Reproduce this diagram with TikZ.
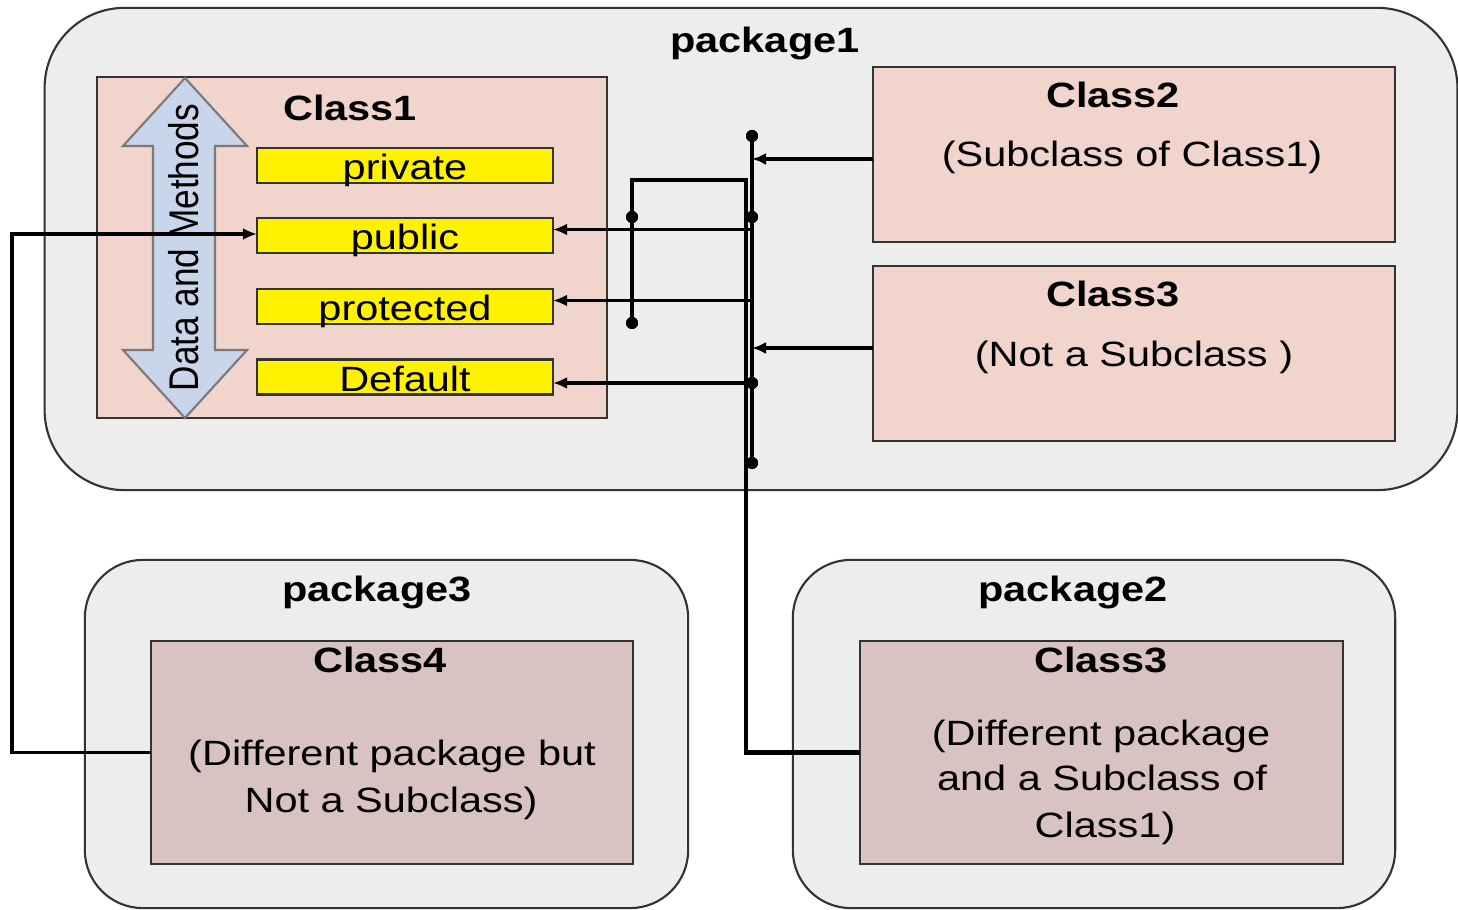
\documentclass[tikz,border=0pt]{standalone}
\usepackage{fontspec}
\usepackage{graphicx}
\setmainfont{Liberation Sans}
\usetikzlibrary{arrows.meta,calc}
\definecolor{pkgfill}{HTML}{EDEDED}
\definecolor{clsfill}{HTML}{F1D4CC}
\definecolor{clsdark}{HTML}{D9C3C2}
\definecolor{arrfill}{HTML}{C8D5EA}
\definecolor{arrdraw}{HTML}{7A7A7A}
\definecolor{boxdraw}{HTML}{333333}
\newcommand{\wide}[1]{\scalebox{1.18}[1]{#1}}
\begin{document}
\begin{tikzpicture}[x=0.01cm,y=-0.01cm,
  every node/.style={font=\fontsize{10}{12}\selectfont, inner sep=0pt, outer sep=0pt},
  pkg/.style={draw=boxdraw, fill=pkgfill, line width=0.6pt},
  cls/.style={draw=boxdraw, fill=clsfill, line width=0.6pt},
  clsd/.style={draw=boxdraw, fill=clsdark, line width=0.6pt},
  mod/.style={draw=boxdraw, fill=yellow, line width=0.6pt, minimum width=2.96cm, minimum height=0.35cm, text height=8pt, text depth=0pt},
  txt/.style={anchor=base},
  ttl/.style={anchor=base, font=\fontsize{10}{12}\selectfont\bfseries},
  bus/.style={line width=1.3pt},
  arr/.style={line width=1.0pt, -{Latex[length=1.4mm,width=1.2mm]}},
  dot/.style={circle, fill=black, minimum size=0.12cm}
]
\useasboundingbox (0,0) rectangle (1458,910);

% packages
\node[pkg, minimum width=14.12cm, minimum height=4.82cm, rounded corners=0.8cm] (p1) at (751,249) {};
\node[pkg, minimum width=6.03cm, minimum height=3.48cm, rounded corners=0.58cm] (p3) at (386.5,734) {};
\node[pkg, minimum width=6.02cm, minimum height=3.48cm, rounded corners=0.58cm] (p2) at (1094,734) {};

% classes
\node[cls, minimum width=5.10cm, minimum height=3.41cm] (c1) at (352,247.5) {};
\node[cls, minimum width=5.22cm, minimum height=1.75cm] (c2) at (1134,154.5) {};
\node[cls, minimum width=5.22cm, minimum height=1.75cm] (c3a) at (1134,353.5) {};
\node[clsd, minimum width=4.82cm, minimum height=2.23cm] (c4) at (392,752.5) {};
\node[clsd, minimum width=4.83cm, minimum height=2.23cm] (c3b) at (1101.5,752.5) {};

% double arrow "Data and Methods"
\draw[fill=arrfill, draw=arrdraw, line width=0.6pt]
  (185,78) -- (247,146) -- (215,146) -- (215,350) -- (247,350) -- (185,418)
  -- (123,350) -- (153,350) -- (153,146) -- (123,146) -- cycle;
\node[rotate=90] (dm) at (184,247.5) {\scalebox{1}[1.18]{Data and Methods}};

% access modifiers
\node[mod] (priv) at (405,165.5) {\wide{private}};
\node[mod] (pub) at (405,235.5) {\wide{public}};
\node[mod] (prot) at (405,306.5) {\wide{protected}};
\node[mod] (def) at (405,377) {\wide{Default}};

% labels
\node[ttl] (tp1) at (765,53) {\wide{package1}};
\node[ttl] (tc1) at (350,121) {\wide{Class1}};
\node[ttl] (tc2) at (1113,108) {\wide{Class2}};
\node[txt] (tc2s) at (1132,167) {\wide{(Subclass of Class1)}};
\node[ttl] (tc3) at (1113,307) {\wide{Class3}};
\node[txt] (tc3s) at (1134,367) {\wide{(Not a Subclass )}};
\node[ttl] (tp3) at (377,602) {\wide{package3}};
\node[ttl] (tc4) at (380,672) {\wide{Class4}};
\node[txt] (tc4a) at (392,765) {\wide{(Different package but}};
\node[txt] (tc4b) at (391,812) {\wide{Not a Subclass)}};
\node[ttl] (tp2) at (1073,602) {\wide{package2}};
\node[ttl] (tc3b) at (1101,672) {\wide{Class3}};
\node[txt] (tc3ba) at (1101,745) {\wide{(Different package}};
\node[txt] (tc3bb) at (1102,790) {\wide{and a Subclass of}};
\node[txt] (tc3bc) at (1105,837) {\wide{Class1)}};

% junction dots
\node[dot] (dTop) at (752,136) {};
\node[dot] (d2) at (752,217) {};
\node[dot] (d3) at (752,383) {};
\node[dot] (dBot) at (752,463) {};
\node[dot] (e1) at (632,217) {};
\node[dot] (e2) at (632,323) {};
\coordinate (jtop) at (746,180);
\coordinate (ktop) at (632,180);
\coordinate (lx) at (12,0);

% bus
\draw[bus] (dTop.center) -- (dBot.center);
% package2 Class3 path
\draw[bus] (c3b.west) -| (jtop) -- (ktop) -- (e2.center);
% package1 classes into bus
\draw[arr] ($(c2.west)+(0,4.5)$) -- ($(c2.west -| dTop)+(0,4.5)$);
\draw[arr] ($(c3a.west)+(0,-5.5)$) -- ($(c3a.west -| dTop)+(0,-5.5)$);
% bus to modifiers
\draw[arr] ($(pub.east -| dTop)+(0,-6)$) -- ($(pub.east)+(0,-6)$);
\draw[arr] ($(prot.east -| dTop)+(0,-6)$) -- ($(prot.east)+(0,-6)$);
\draw[arr] (d3.center) -- ($(def.east)+(0,6)$);
% package3 Class4 to public
\draw[arr] (c4.west) -- (c4.west -| lx) -- ($(pub.west -| lx)+(0,-1.5)$) -- ($(pub.west)+(0,-1.5)$);

% redraw dots on top
\foreach \d in {dTop,d2,d3,dBot,e1,e2} \fill (\d) circle (0.06cm);
\end{tikzpicture}
\end{document}
